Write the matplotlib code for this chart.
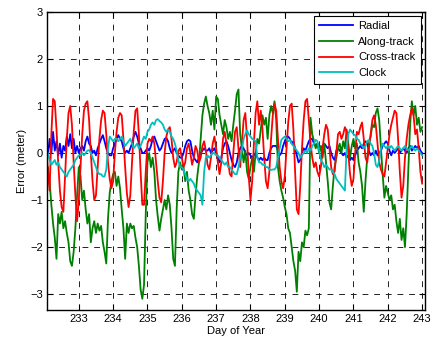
import numpy as np
import matplotlib
matplotlib.use('Agg')
import matplotlib.pyplot as plt

plt.rcParams['font.family'] = ['Liberation Sans', 'DejaVu Sans']

# day of year, sampled every 0.05 day (232.05 ... 243.00)
t = np.round(232.0 + 0.05 * np.arange(1, 221), 2)

# one row per day
radial = [
    0.25, -0.05, 0.3, 0.0, 0.45, 0.05, 0.25, -0.05, 0.2, -0.1, 0.15, 0.05, 0.35, 0.15, 0.4, 0.1, 0.3, 0.0, 0.15, 0.0,
    0.1, 0.15, 0.05, 0.25, 0.35, 0.2, 0.15, 0.0, 0.05, -0.05, 0.1, 0.2, 0.3, 0.38, 0.25, 0.1, 0.0, -0.05, -0.05, 0.1,
    0.2, 0.3, 0.38, 0.3, 0.25, 0.1, 0.0, 0.05, 0.0, 0.1, 0.2, 0.35, 0.45, 0.35, 0.2, 0.1, 0.0, 0.0, 0.05, 0.1,
    0.05, 0.15, 0.3, 0.35, 0.25, 0.15, 0.05, 0.1, 0.2, 0.3, 0.32, 0.25, 0.1, 0.0, 0.05, 0.1, 0.0, -0.05, -0.1, -0.1,
    0.0, 0.15, 0.25, 0.28, 0.25, 0.05, -0.1, -0.15, -0.2, -0.1, 0.0, 0.05, 0.1, 0.05, 0.05, 0.1, 0.0, 0.05, 0.1, 0.0,
    -0.1, -0.2, -0.1, 0.1, 0.2, 0.25, 0.15, 0.0, -0.15, -0.25, -0.3, -0.2, 0.0, 0.1, 0.15, 0.1, 0.0, -0.05, 0.0, -0.05,
    -0.1, -0.05, 0.0, -0.1, -0.15, -0.1, -0.15, -0.1, -0.15, -0.15, 0.0, 0.1, 0.15, 0.15, 0.15, 0.05, -0.05, 0.0, 0.15, 0.25,
    0.35, 0.35, 0.3, 0.2, 0.25, 0.1, -0.05, -0.2, -0.15, 0.0, 0.1, 0.05, 0.15, 0.25, 0.3, 0.3, 0.2, 0.15, 0.2, 0.15,
    0.1, 0.15, 0.2, 0.15, 0.1, 0.15, 0.0, -0.1, -0.15, 0.05, 0.1, 0.05, 0.0, -0.05, 0.0, -0.1, -0.05, -0.15, -0.1, -0.15,
    -0.05, 0.05, 0.1, 0.15, 0.1, 0.2, 0.25, 0.2, 0.05, -0.05, 0.0, -0.05, 0.05, -0.05, 0.0, 0.05, 0.15, 0.2, 0.25, 0.2,
    0.05, -0.05, 0.05, 0.0, 0.05, 0.1, 0.0, 0.05, 0.1, 0.05, 0.0, 0.1, 0.15, 0.05, 0.1, 0.15, 0.1, 0.15, 0.05, 0.0,
]

along = [
    -0.5, -0.3, -0.6, -1.1, -1.5, -1.8, -2.25, -1.3, -1.5, -1.25, -1.6, -1.45, -1.7, -1.9, -2.3, -2.4, -2.1, -1.6, -0.9, -0.3,
    -0.5, -1.0, -0.8, -1.2, -1.5, -1.3, -1.9, -1.6, -1.45, -1.7, -1.5, -1.65, -1.55, -1.9, -2.1, -2.35, -1.4, -0.85, -0.6, -0.45,
    -0.4, -0.7, -0.5, -0.75, -1.2, -1.6, -2.25, -1.5, -1.7, -1.5, -1.6, -1.55, -1.8, -2.0, -2.4, -2.9, -3.1, -2.8, -1.3, -0.2,
    0.0, -0.3, -0.1, -0.4, -1.0, -1.35, -1.65, -1.4, -1.2, -1.0, -1.2, -0.9, -1.1, -1.6, -2.25, -2.4, -1.2, -0.4, -0.2, -0.35,
    -0.3, -0.6, -0.4, -0.8, -1.0, -1.3, -1.4, -0.9, -0.5, -0.2, 0.3, 0.8, 1.05, 1.2, 1.0, 0.85, 0.6, 0.9, 0.5, 1.2,
    1.15, 0.8, 0.6, 0.4, 0.7, 0.55, 0.3, 0.45, 0.25, 0.6, 0.9, 1.25, 1.35, 0.4, 0.1, -0.2, 0.05, -0.4, -0.55, -0.3,
    -0.1, -0.4, 0.0, 0.3, 0.2, 0.5, 0.8, 0.6, 0.75, 0.3, 0.8, 1.0, 0.85, 1.1, 0.7, -0.3, -0.6, -0.8, -0.95, -1.15,
    -1.3, -1.6, -1.7, -2.0, -2.3, -2.5, -2.95, -2.1, -2.3, -1.9, -2.0, -1.65, -1.75, -1.6, 0.75, 0.4, 0.25, 0.1, 0.2, 0.0,
    0.15, -0.1, 0.2, -0.2, -0.6, -1.05, -1.2, -0.7, -0.3, -0.1, 0.1, 0.2, 0.0, 0.25, 0.1, 0.5, 0.2, -0.1, 0.15, 0.3,
    0.1, 0.2, -0.2, -0.4, -0.7, -1.25, -0.6, -0.1, 0.2, 0.35, 0.6, 0.55, 0.85, 0.95, 0.7, 0.1, -0.45, -0.95, -0.7, -0.85,
    -1.0, -0.9, -1.2, -1.1, -1.45, -1.7, -1.4, -1.85, -1.6, -2.0, -1.3, -0.3, 0.6, 1.1, 0.8, 1.0, 0.6, 0.75, 0.45, 0.55,
]

cross = [
    0.2, -0.4, -0.8, 0.4, 1.15, 1.1, 0.5, -0.2, -0.8, -1.15, -1.25, -0.5, 0.3, 0.85, 1.0, 0.6, -0.2, -0.9, -1.45, -1.0,
    -0.3, 0.4, 0.9, 1.05, 1.1, 0.7, 0.0, -0.6, -1.0, -0.9, -0.3, 0.3, 0.7, 0.9, 0.85, 0.4, -0.2, -0.55, -0.75, -0.6,
    0.0, 0.45, 0.75, 0.85, 0.8, 0.3, -0.3, -0.85, -1.15, -0.9, -0.2, 0.45, 0.9, 0.95, 0.4, -0.4, -1.1, -1.1, -0.4, 0.2,
    0.3, 0.25, 0.35, 0.2, -0.2, -0.6, -0.95, -1.05, -0.6, 0.0, 0.35, 0.5, 0.55, 0.3, -0.1, -0.3, -0.2, 0.05, 0.1, -0.1,
    -0.3, -0.2, 0.1, 0.2, 0.0, -0.25, -0.1, 0.15, 0.05, -0.2, -0.1, 0.15, 0.25, 0.05, -0.25, -0.35, -0.1, 0.2, 0.35, 0.1,
    -0.2, -0.45, -0.2, 0.3, 0.45, 0.2, -0.2, -0.45, -0.5, 0.0, 0.45, 0.55, 0.1, -0.3, 0.2, 0.7, 0.85, 0.3, -0.5, -1.0,
    -0.6, 0.2, 0.85, 1.1, 0.6, 0.9, 0.5, -0.1, -0.6, -0.75, -0.4, 0.3, 0.8, 1.05, 0.9, 0.3, -0.3, -0.6, -0.75, -0.5,
    0.1, 0.65, 1.0, 1.05, 0.5, -0.4, -1.2, -1.3, -0.7, 0.1, 0.7, 1.1, 1.15, 0.7, 0.2, -0.1, -0.3, -0.2, -0.4, -0.5,
    -0.3, 0.1, 0.4, 0.6, 0.5, 0.1, -0.3, -0.45, -0.4, 0.0, 0.4, 0.45, 0.3, 0.4, 0.55, 0.45, 0.0, -0.45, -0.7, -0.55,
    0.0, 0.45, 0.4, 0.55, 0.65, 0.3, -0.1, -0.2, 0.1, 0.4, 0.7, 0.8, 0.6, 0.2, -0.2, -0.35, -0.45, -0.5, -0.2, 0.1,
    0.4, 0.6, 0.75, 0.9, 0.85, 0.3, -0.4, -0.95, -0.7, -0.1, 0.3, 0.6, 0.8, 0.95, 0.8, 0.4, 0.5, 0.1, -0.4, -0.65,
]

clock = [
    0.0, 0.0, -0.15, -0.25, -0.2, -0.15, -0.25, -0.2, -0.3, -0.35, -0.4, -0.45, -0.5, -0.4, -0.35, -0.3, -0.25, -0.15, -0.1, -0.05,
    -0.05, 0.0, -0.05, 0.0, 0.05, 0.06, 0.0, -0.1, -0.2, -0.3, -0.4, -0.45, -0.45, -0.5, -0.5, -0.35, 0.1, 0.35, 0.3, 0.25,
    0.3, 0.3, 0.25, 0.3, 0.35, 0.25, 0.15, 0.2, 0.25, 0.3, 0.2, 0.1, 0.15, 0.2, 0.1, 0.15, 0.25, 0.35, 0.3, 0.45,
    0.5, 0.6, 0.65, 0.6, 0.7, 0.72, 0.68, 0.65, 0.6, 0.5, 0.45, 0.5, 0.45, 0.35, 0.3, 0.2, 0.05, -0.15, -0.3, -0.3,
    -0.35, -0.45, -0.55, -0.6, -0.55, -0.6, -0.65, -0.75, -0.8, -0.85, -0.9, -1.1, -0.4, -0.1, -0.05, -0.1, -0.05, 0.0, 0.0, -0.05,
    -0.05, -0.1, -0.15, -0.2, -0.25, -0.2, -0.3, -0.3, -0.35, -0.4, -0.45, -0.45, -0.3, -0.1, 0.05, 0.3, 0.4, 0.48, 0.4, 0.35,
    0.3, 0.28, 0.25, -0.1, -0.2, -0.2, -0.25, -0.25, -0.3, -0.3, -0.35, -0.36, -0.35, -0.35, -0.3, -0.1, 0.1, 0.28, 0.32, 0.35,
    0.3, 0.25, 0.28, 0.2, 0.15, 0.1, 0.05, 0.0, -0.1, -0.05, 0.0, 0.05, 0.0, 0.1, 0.05, 0.15, 0.2, 0.28, 0.25, 0.05,
    -0.15, -0.2, -0.3, -0.25, -0.3, -0.35, -0.35, -0.4, -0.45, -0.55, -0.6, -0.65, -0.7, -0.75, -0.8, 0.1, 0.4, 0.5, 0.45, 0.4,
    0.38, 0.3, 0.28, 0.2, 0.15, 0.1, 0.15, 0.25, 0.28, 0.2, 0.15, 0.0, -0.25, -0.3, -0.15, 0.1, 0.2, 0.15, 0.1, 0.15,
    0.1, 0.15, 0.1, 0.05, 0.1, 0.15, 0.1, 0.05, 0.1, 0.15, 0.1, 0.05, 0.1, 0.15, 0.1, 0.05, 0.1, 0.05, 0.0, -0.05,
]

x_ticks = list(range(233, 244))
y_ticks = [-3, -2, -1, 0, 1, 2, 3]

fig = plt.figure(figsize=(4.34, 3.40), dpi=100)
ax = fig.add_axes([0.108, 0.088, 0.871, 0.877])

lw = 1.3
ax.plot(t, radial, color=(0, 0, 1), lw=lw, label='Radial')
ax.plot(t, along, color=(0, 0.5, 0), lw=lw, label='Along-track')
ax.plot(t, cross, color=(1, 0, 0), lw=lw, label='Cross-track')
ax.plot(t, clock, color=(0, 0.75, 0.75), lw=lw, label='Clock')

ax.set_xlim(232.07, 243.08)
ax.set_ylim(-3.34, 3)
ax.set_xticks(x_ticks)
ax.set_yticks(y_ticks)
ax.tick_params(direction='in', top=True, right=True, length=4, width=0.8, labelsize=8, pad=3)
ax.grid(True, color='#222222', linestyle=(0, (6, 6)), linewidth=0.7)
for s in ax.spines.values():
    s.set_linewidth(1.0)
    s.set_zorder(5)

ax.set_xlabel('Day of Year', fontsize=8, labelpad=1)
ax.set_ylabel('Error (meter)', fontsize=8, labelpad=2)

leg = ax.legend(loc='upper right', fontsize=8, fancybox=False, framealpha=1,
                edgecolor='k', borderaxespad=0.35, handlelength=3.0, labelspacing=0.5,
                borderpad=0.5, handletextpad=0.5)
leg.get_frame().set_linewidth(0.8)

fig.savefig('out.png', dpi=100)
